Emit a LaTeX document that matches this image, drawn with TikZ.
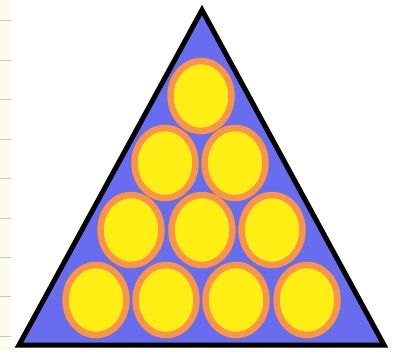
\documentclass[tikz,border=0pt]{standalone}
\usepackage{xcolor}
\usepackage{tikz}
\usetikzlibrary{shapes.geometric}

\definecolor{rackblue}{RGB}{104,108,238}
\definecolor{ballyellow}{RGB}{255,238,20}
\definecolor{ballorange}{RGB}{250,148,72}
\definecolor{papercream}{RGB}{252,251,238}
\definecolor{paperline}{RGB}{196,198,186}

\begin{document}
\begin{tikzpicture}[x=1pt,y=-1pt,
    rack/.style={draw=black,fill=rackblue,line width=5pt,line join=miter},
    ball/.style={ellipse,draw=ballorange,fill=ballyellow,line width=6.5pt,
                 inner sep=0pt,minimum width=61pt,minimum height=70pt},
    ruling/.style={draw=paperline,line width=0.9pt}]
    \useasboundingbox (0,0) rectangle (403,351);
    \fill[white] (0,0) rectangle (403,351);

    % strip of ruled paper on the left
    \fill[papercream] (0,0) rectangle (11,351);
    \foreach \y in {20,60,99,139,178,218,257,296,336}
        \draw[ruling] (0,\y) -- (11,\y);

    % the rack
    \coordinate (apex) at (202,10);
    \coordinate (corner-l) at (19,345);
    \coordinate (corner-r) at (384,345);
    \draw[rack] (apex) -- (corner-l) -- (corner-r) -- cycle;

    % the balls, row by row from the top
    \node[ball] (b11) at (201,96) {};
    \node[ball] (b21) at (165,163) {};
    \node[ball] (b22) at (235,163) {};
    \node[ball] (b31) at (131,230) {};
    \node[ball] (b32) at (202,230) {};
    \node[ball] (b33) at (272,230) {};
    \node[ball] (b41) at (96,300) {};
    \node[ball] (b42) at (166,300) {};
    \node[ball] (b43) at (236,300) {};
    \node[ball] (b44) at (307,300) {};
\end{tikzpicture}
\end{document}
